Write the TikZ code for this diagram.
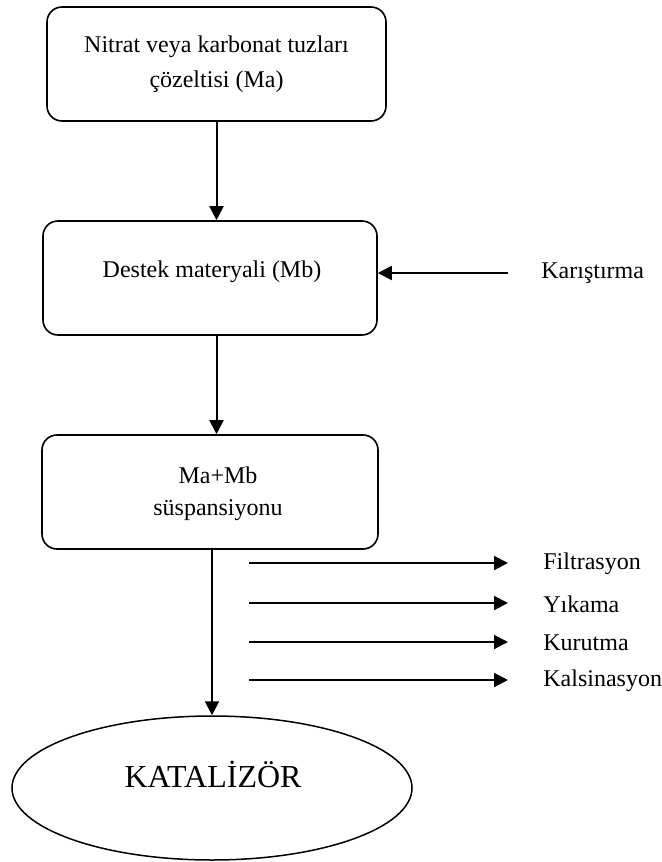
\documentclass[tikz,border=0pt]{standalone}
\usepackage{fontspec}
\setmainfont{Liberation Serif}
\usetikzlibrary{arrows.meta,shapes.geometric}
\begin{document}
\begin{tikzpicture}[x=0.5pt,y=-0.5pt,
  box/.style={draw,line width=0.8pt,rounded corners=7.5pt,minimum height=57pt,inner sep=0pt},
  arr/.style={line width=1pt,-{Triangle[length=7pt,width=7pt]}},
  plain/.style={line width=1pt},
  txt/.style={font=\fontsize{12}{14}\selectfont,inner sep=0pt},
  lbl/.style={txt,anchor=west}]
\useasboundingbox (0,0) rectangle (662,862);

% boxes
\node[box,minimum width=169.5pt,align=center,font=\fontsize{12}{17.5}\selectfont] (b1) at (216.5,64)
  {Nitrat veya karbonat tuzları\\çözeltisi (Ma)};
\node[box,minimum width=167pt] (b2) at (210,278) {};
\node[txt] (t2) at (212,272) {Destek materyali (Mb)};
\node[box,minimum width=168pt] (b3) at (210,492) {};
\node[txt,align=center,font=\fontsize{12}{16}\selectfont] (t3) at (218,494) {Ma+Mb\\süspansiyonu};
\node[draw,ellipse,line width=0.75pt,minimum width=200pt,minimum height=72pt,inner sep=0pt] (kat) at (212,788) {};
\node[txt,font=\fontsize{16}{18}\selectfont] (kt) at (213,774) {KATALİZÖR};

% vertical flow
\draw[arr] (b1.south) -- (b1.south |- b2.north);
\draw[arr] (b2.south -| b1.south) -- (b3.north -| b1.south);
\draw[arr] (b3.south -| kat.north) -- (kat.north);

% Karistirma
\node[lbl] (kar) at (541,273) {Karıştırma};
\coordinate (ks) at (508,273);
\draw[arr] (ks) -- (ks -| b2.east);

% side steps
\node[lbl] (f1) at (543,564) {Filtrasyon};
\node[lbl] (f2) at (543,604) {Yıkama};
\node[lbl] (f3) at (543,643) {Kurutma};
\node[lbl] (f4) at (543,681) {Kalsinasyon};
\coordinate (s1) at (249,563);
\coordinate (s2) at (249,603);
\coordinate (s3) at (249,642);
\coordinate (s4) at (249,680);
\coordinate (e1) at (508,563);
\coordinate (e2) at (508,603);
\coordinate (e3) at (508,642);
\coordinate (e4) at (508,680);
\draw[arr] (s1) -- (e1);
\draw[arr] (s2) -- (e2);
\draw[arr] (s3) -- (e3);
\draw[arr] (s4) -- (e4);
\end{tikzpicture}
\end{document}
